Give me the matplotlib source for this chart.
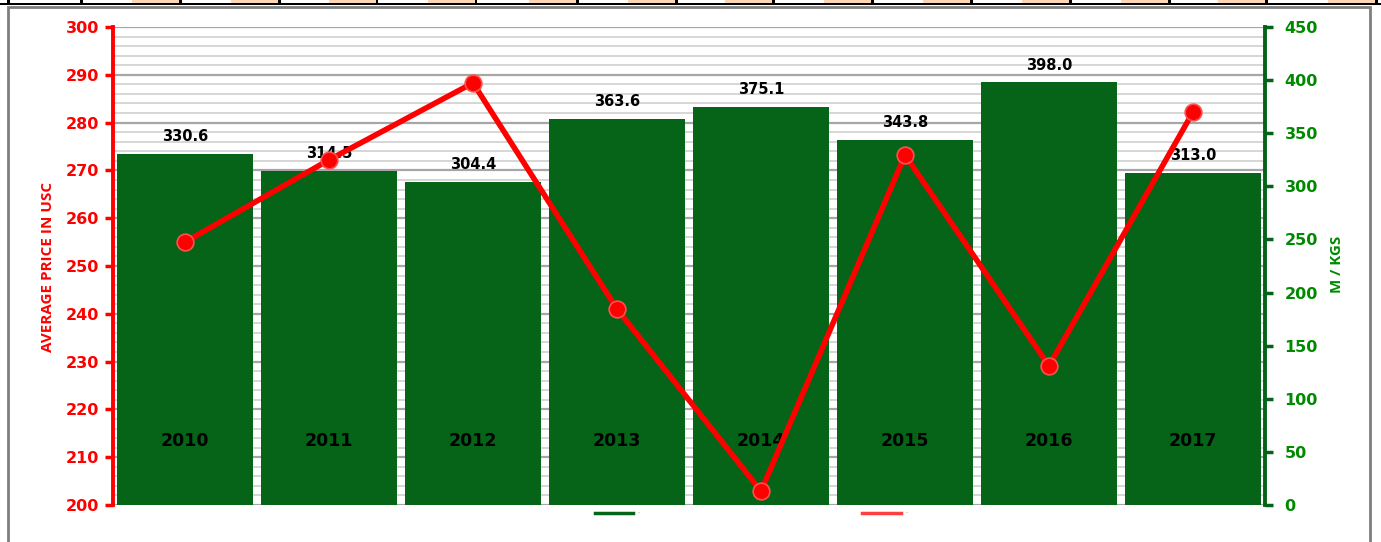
import matplotlib.pyplot as plt
from matplotlib.patches import Rectangle
from matplotlib.lines import Line2D

years = ["2010", "2011", "2012", "2013", "2014", "2015", "2016", "2017"]
volume = [330.6, 314.5, 304.4, 363.6, 375.1, 343.8, 398.0, 313.0]   # M / KGS (bars)
price = [255.0, 272.2, 288.3, 241.0, 202.9, 273.2, 229.1, 282.2]   # average price in USC (line)

W, H = 1381, 542
fig = plt.figure(figsize=(W / 100, H / 100), dpi=100)

def px(x0, y0, w, h, **kw):
    # rectangle in pixel coords (top-left origin) on the figure
    fig.patches.append(Rectangle((x0 / W, 1 - (y0 + h) / H), w / W, h / H,
                                 transform=fig.transFigure, figure=fig, **kw))

# spreadsheet cells peeking above the chart
seps = [8, 81, 180, 279, 377, 476, 577, 676, 773, 872, 971, 1070, 1169, 1266, 1376]
for b in seps[2:]:
    px(b - 48, 0, 47, 4, color="#fcd5b4", lw=0)
px(0, 3, W, 2, color="black", lw=0)
for s in seps:
    px(s - 1, 0, 2.5, 5, color="black", lw=0)

# chart frame
px(8, 7, 1362, 560, fill=False, ec="#7f7f7f", lw=2)

left, right, top, bottom = 113, 1265, 27, 505
rect = [left / W, 1 - bottom / H, (right - left) / W, (bottom - top) / H]

ax = fig.add_axes(rect)
ax.set_ylim(200, 300)
ax.set_xlim(-0.5, len(years) - 0.5)
ax.set_yticks(range(200, 301, 10))
ax.set_yticks(range(200, 301, 2), minor=True)
ax.grid(axis="y", which="major", color="#a6a6a6", lw=1.6)
ax.grid(axis="y", which="minor", color="#cfcfcf", lw=1.2)
ax.set_axisbelow(True)
ax.set_xticks([])
ax.tick_params(axis="y", which="major", colors="red", width=2.5, length=6, pad=4, labelsize=11.5)
ax.tick_params(axis="y", which="minor", length=0)
for lbl in ax.get_yticklabels():
    lbl.set_fontweight("bold")
for s in ["top", "right", "bottom"]:
    ax.spines[s].set_visible(False)
ax.spines["left"].set_color("red")
ax.spines["left"].set_linewidth(2.8)

bx = ax.twinx()
bx.set_ylim(0, 450)
bx.set_yticks(range(0, 451, 50))
bx.bar(range(len(years)), volume, width=0.95, color="#056418", zorder=2)
bx.tick_params(axis="y", colors="#008a00", width=2.5, length=6, pad=8, labelsize=11.5)
bx.tick_params(axis="y", which="both", color="#046317")
for lbl in bx.get_yticklabels():
    lbl.set_fontweight("bold")
for s in ["top", "left", "bottom"]:
    bx.spines[s].set_visible(False)
bx.spines["right"].set_color("#046317")
bx.spines["right"].set_linewidth(2.8)
bx.patch.set_visible(False)
for i, v in enumerate(volume):
    bx.annotate(f"{v:.1f}", (i, v), xytext=(0, 7), textcoords="offset points",
                ha="center", va="bottom", fontsize=10.5, fontweight="bold")
    bx.annotate(years[i], (i, 0), xytext=(0, 46), textcoords="offset points",
                ha="center", va="center", fontsize=12.5, fontweight="bold")

lx = ax.twinx()
lx.set_ylim(200, 300)
lx.plot(range(len(years)), price, color="red", lw=4, marker="o", ms=12,
        mfc="#ff0000", mec="#ff5050", mew=1.2, clip_on=False)
lx.axis("off")
lx.patch.set_visible(False)

ax.set_zorder(1)
bx.set_zorder(2)
lx.set_zorder(3)
lx.set_xlim(ax.get_xlim())
bx.set_xlim(ax.get_xlim())

fig.text(48 / W, 1 - 267 / H, "AVERAGE PRICE IN USC", rotation=90, color="red",
         fontsize=11, fontweight="bold", family="Open Sans", ha="center", va="center")
fig.text(1337 / W, 1 - 264 / H, "M / KGS", rotation=90, color="#008a00",
         fontsize=10.8, fontweight="bold", family="Open Sans", ha="center", va="center")

handles = [Line2D([], [], color="#056418", lw=2.5), Line2D([], [], color="#ff4040", lw=2.5)]
fig.legend(handles, ["-", "-"], loc="center", bbox_to_anchor=(751 / W, 1 - 513 / H),
           ncol=2, fontsize=4, labelcolor="#808080", frameon=False,
           handlelength=7, columnspacing=40, handletextpad=0.8)

fig.savefig("out.png", dpi=100)
